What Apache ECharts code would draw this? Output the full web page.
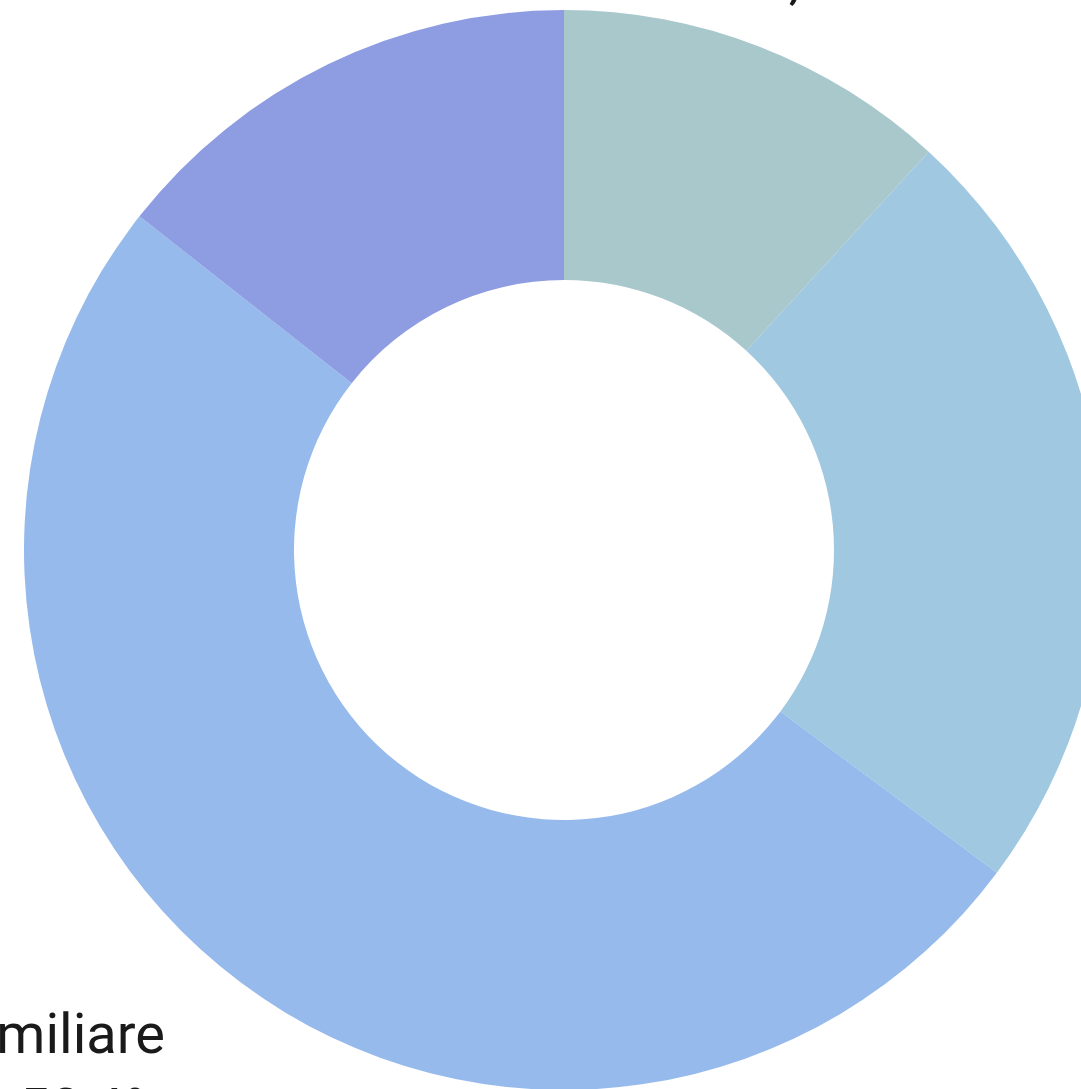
<!DOCTYPE html>
<html>
<head>
<meta charset="utf-8">
<script src="https://cdn.jsdelivr.net/npm/echarts@6/dist/echarts.min.js"></script>
<style>
html,body{margin:0;padding:0;background:#fff;}
#chart{width:1081px;height:1089px;}
</style>
</head>
<body>
<div id="chart"></div>
<script>
// Data (share of total, %)
const categories = ['Società di capitali', 'Società di persone', 'Impresa familiare', 'Impresa individuale'];
const values = [11.8, 23.4, 50.4, 14.4];
const colors = ['#a8c8cc', '#a0c8e0', '#96baec', '#8e9ce2'];
const showLabel = [true, false, true, false];
const lineLen = [108, 95, 123, 95];
const lineLen2 = [-78, 0, -9, 0];

const chart = echarts.init(document.getElementById('chart'), null, {renderer: 'canvas'});
chart.setOption({
  animation: false,
  backgroundColor: '#ffffff',
  series: [{
    type: 'pie',
    center: [564, 550],
    radius: [270, 540],
    startAngle: 90,
    clockwise: true,
    avoidLabelOverlap: false,
    label: {
      position: 'outside',
      fontFamily: 'Roboto',
      fontSize: 56,
      lineHeight: 75,
      color: '#1a1a1a',
      formatter: p => p.name + '\n' + p.value.toFixed(1).replace('.', ',') + '%'
    },
    labelLine: {show: false, length2: 0},
    emphasis: {disabled: true},
    data: categories.map((c, i) => ({
      name: c,
      value: values[i],
      itemStyle: {color: colors[i]},
      label: {show: showLabel[i]},
      labelLine: {show: false, length: lineLen[i], length2: lineLen2[i]}
    }))
  }]
});
</script>
</body>
</html>
